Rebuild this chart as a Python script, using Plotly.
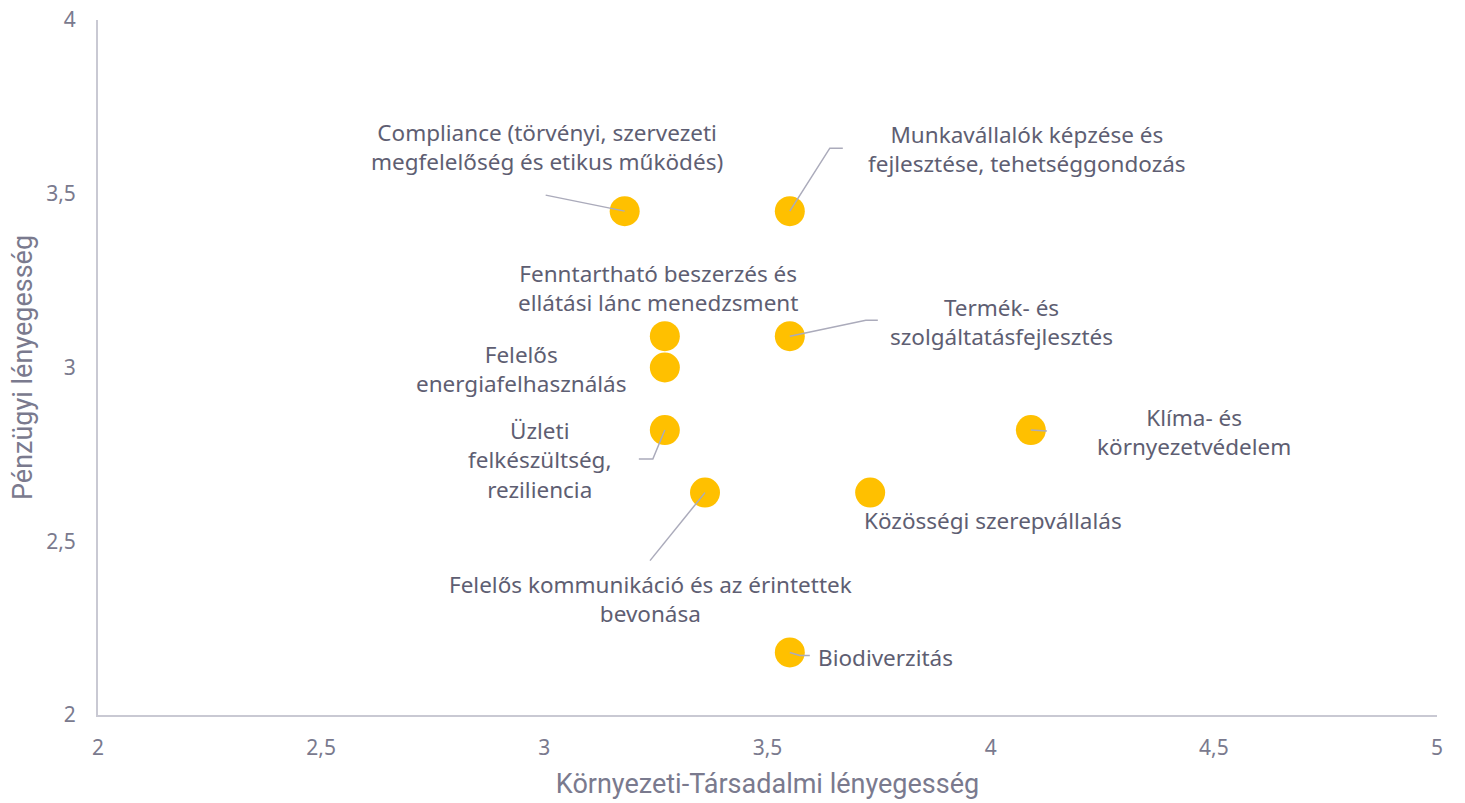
import plotly.graph_objects as go

# ---- data ----
labels = [
    "Compliance (törvényi, szervezeti<br>megfelelőség és etikus működés)",
    "Munkavállalók képzése és<br>fejlesztése, tehetséggondozás",
    "Fenntartható beszerzés és<br>ellátási lánc menedzsment",
    "Termék- és<br>szolgáltatásfejlesztés",
    "Felelős<br>energiafelhasználás",
    "Üzleti<br>felkészültség,<br>reziliencia",
    "Klíma- és<br>környezetvédelem",
    "Felelős kommunikáció és az érintettek<br>bevonása",
    "Közösségi szerepvállalás",
    "Biodiverzitás",
]
env_social = [3.18, 3.55, 3.27, 3.55, 3.27, 3.27, 4.09, 3.36, 3.73, 3.55]
financial = [3.45, 3.45, 3.09, 3.09, 3.00, 2.82, 2.82, 2.64, 2.64, 2.18]

x_ticks = [2, 2.5, 3, 3.5, 4, 4.5, 5]
y_ticks = [2, 2.5, 3, 3.5, 4]

# ---- layout helpers (pixel offsets for labels / leader lines) ----
label_offsets = [(-78, -64), (237, -62), (-7, -48), (212, -14), (-144, 1),
                 (-125, 30), (163, 2), (-55, 106), (123, 28), (96, 5)]
leaders = [
    [(0, 0), (-79, -16)],
    [(0, 0), (40, -63), (53, -63)],
    None,
    [(0, 0), (76, -16), (88, -16)],
    None,
    [(0, 0), (-12, 29), (-26, 29)],
    [(0, 0), (16, 1)],
    [(0, 0), (-55, 68)],
    None,
    [(0, 0), (10, 3), (20, 3)],
]

W, H = 1465, 803
ml, mr, mt, mb = 98, 28, 20, 88
xr = (2, 5)
yr = (2, 4)
px_x = (W - ml - mr) / (xr[1] - xr[0])
px_y = (H - mt - mb) / (yr[1] - yr[0])

text_color = "#5e5e72"
tick_color = "#7a7a8e"
line_color = "#ababbb"

fig = go.Figure()

fig.add_trace(go.Scatter(
    x=env_social, y=financial, mode="markers",
    marker=dict(size=30, color="#FFC000", line=dict(width=0)),
    hoverinfo="skip", showlegend=False,
))

for xi, yi, ld in zip(env_social, financial, leaders):
    if ld is None:
        continue
    fig.add_trace(go.Scatter(
        x=[xi + dx / px_x for dx, dy in ld],
        y=[yi - dy / px_y for dx, dy in ld],
        mode="lines", line=dict(color=line_color, width=1.5),
        hoverinfo="skip", showlegend=False,
    ))

for xi, yi, lab, (ox, oy) in zip(env_social, financial, labels, label_offsets):
    fig.add_annotation(
        x=xi, y=yi, xref="x", yref="y", text=lab, showarrow=False,
        xshift=ox, yshift=-oy, align="center", xanchor="center", yanchor="middle",
        font=dict(family="Noto Sans, Open Sans, sans-serif", size=22.5, color=text_color),
    )

fig.update_layout(
    width=W, height=H,
    margin=dict(l=ml, r=mr, t=mt, b=mb, autoexpand=False),
    plot_bgcolor="white", paper_bgcolor="white",
    separators=", ",
    xaxis=dict(
        range=list(xr), tickvals=x_ticks, showgrid=False, zeroline=False,
        automargin=False,
        showline=True, linecolor="#c9c9d3", linewidth=2,
        ticks="outside", ticklen=13, tickcolor="rgba(0,0,0,0)",
        tickfont=dict(family="Noto Sans, sans-serif", size=21, color=tick_color),
        title=dict(text="Környezeti-Társadalmi lényegesség", standoff=14,
                   font=dict(family="Roboto, sans-serif", size=27, color=tick_color)),
    ),
    yaxis=dict(
        range=list(yr), tickvals=y_ticks, showgrid=False, zeroline=False,
        automargin=False,
        showline=True, linecolor="#c9c9d3", linewidth=2,
        ticks="outside", ticklen=16, tickcolor="rgba(0,0,0,0)",
        tickfont=dict(family="Noto Sans, sans-serif", size=21, color=tick_color),
        title=dict(text="Pénzügyi lényegesség", standoff=6,
                   font=dict(family="Roboto, sans-serif", size=27, color=tick_color)),
    ),
)

fig.write_html("out.html", config={"displayModeBar": False},
               post_script="document.body.style.margin='0';")
